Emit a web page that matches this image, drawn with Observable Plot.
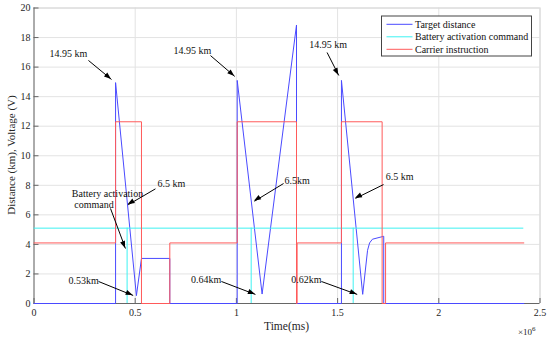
<!DOCTYPE html>
<html><head><meta charset="utf-8">
<script src="https://cdn.jsdelivr.net/npm/d3@7"></script>
<script src="https://cdn.jsdelivr.net/npm/@observablehq/plot@0.6"></script>
<style>
body{margin:0;background:#fff}
svg, svg text { font-family: "Liberation Serif", "Times New Roman", serif !important; }
</style>
</head><body><div id="chart"></div>
<script>
// Time in units of 10^6 ms
const distanceT = [0, 0.403, 0.403, 0.506, 0.531, 0.671, 0.671, 1.004, 1.004, 1.127, 1.297, 1.297, 1.519, 1.519, 1.624, 1.648, 1.658, 1.672, 1.728, 1.728, 2.42];
const distanceV = [0, 0, 14.95, 0.53, 3.05, 3.05, 0, 0, 15.1, 0.64, 18.85, 0, 0, 15.1, 0.62, 3.6, 4.1, 4.35, 4.55, 0, 0];

const carrierT = [0, 0.403, 0.403, 0.531, 0.531, 0.671, 0.671, 1.004, 1.004, 1.297, 1.297, 1.30, 1.30, 1.519, 1.519, 1.720, 1.720, 1.737, 1.737, 2.42];
const carrierV = [4.1, 4.1, 12.3, 12.3, 0, 0, 4.1, 4.1, 12.3, 12.3, 0, 0, 4.1, 4.1, 12.3, 12.3, 0, 0, 4.1, 4.1];

const batteryLevel = 5.1;
const batteryEnd = 2.42;
const batteryPulses = [0.46, 1.073, 1.577];

const xTicks = [0, 0.5, 1, 1.5, 2, 2.5];
const yTicks = [0, 2, 4, 6, 8, 10, 12, 14, 16, 18, 20];

const seriesNames = ["Target distance", "Battery activation command", "Carrier instruction"];
const seriesColors = ["#4a4aff", "#3df2f2", "#ff5a5a"];

const labelText = ["14.95 km", "14.95 km", "14.95 km", "6.5 km", "Battery activation", "command", "0.53km", "6.5km", "0.64km", "0.62km", "6.5 km"];
const labelX = [0.170, 0.783, 1.453, 0.679, 0.363, 0.296, 0.245, 1.300, 0.851, 1.346, 1.806];
const labelY = [16.92, 17.12, 17.51, 8.10, 7.45, 6.70, 1.56, 8.32, 1.62, 1.62, 8.60];

const arrowX1 = [0.269, 0.872, 1.448, 0.600, 0.378, 0.319, 1.233, 0.926, 1.420, 1.727];
const arrowY1 = [16.45, 16.78, 16.99, 7.76, 6.43, 1.49, 8.12, 1.49, 1.49, 8.05];
const arrowX2 = [0.383, 0.992, 1.506, 0.465, 0.452, 0.490, 1.089, 1.094, 1.597, 1.588];
const arrowY2 = [15.16, 15.37, 15.43, 6.68, 3.72, 0.54, 6.92, 0.61, 0.61, 7.11];

const distance = distanceT.map((t, i) => ({t, v: distanceV[i]}));
const carrier = carrierT.map((t, i) => ({t, v: carrierV[i]}));
const labels = labelText.map((text, i) => ({text, x: labelX[i], y: labelY[i]}));
const arrows = arrowX1.map((x1, i) => ({x1, y1: arrowY1[i], x2: arrowX2[i], y2: arrowY2[i]}));

const chart = Plot.plot({
  width: 550,
  height: 339,
  marginLeft: 33.5,
  marginRight: 10.5,
  marginTop: 7.5,
  marginBottom: 36,
  style: {fontFamily: '"Liberation Serif", "Times New Roman", serif', fontSize: "10px", background: "#fff", color: "#262626"},
  x: {domain: [0, 2.5]},
  y: {domain: [0, 20]},
  marks: [
    Plot.gridX(xTicks, {stroke: "#e3e3e3", strokeOpacity: 1}),
    Plot.gridY(yTicks, {stroke: "#e3e3e3", strokeOpacity: 1}),
    Plot.ruleY([20], {stroke: "#d6d6d6"}),
    Plot.ruleX([2.5], {stroke: "#d6d6d6"}),
    Plot.ruleX([0], {stroke: "#666"}),
    Plot.ruleY([0], {stroke: "#666"}),
    Plot.axisX(xTicks, {tickSize: -5, tickPadding: 10, stroke: "#666", fill: "#262626", label: null, tickFormat: d => String(d), fontSize: 10}),
    Plot.axisY(yTicks, {tickSize: -5, tickPadding: 8.5, stroke: "#666", fill: "#262626", label: null, fontSize: 10}),
    Plot.line(distance, {x: "t", y: "v", stroke: seriesColors[0], strokeWidth: 1}),
    Plot.ruleY([batteryLevel], {x1: 0, x2: batteryEnd, stroke: seriesColors[1], strokeWidth: 1}),
    Plot.ruleX(batteryPulses, {y1: 0, y2: batteryLevel, stroke: seriesColors[1], strokeWidth: 1}),
    Plot.line(carrier, {x: "t", y: "v", stroke: seriesColors[2], strokeWidth: 1}),
    Plot.link(arrows, {x1: "x1", y1: "y1", x2: "x2", y2: "y2", stroke: "#000", strokeWidth: 1}),
    Plot.text(labels, {x: "x", y: "y", text: "text", fontSize: 10, fill: "#111"})
  ]
});

const sx = chart.scale("x"), sy = chart.scale("y");
const svg = d3.select(chart);
const heads = svg.append("g");
arrows.forEach(a => {
  const x1 = sx.apply(a.x1), y1 = sy.apply(a.y1), x2 = sx.apply(a.x2), y2 = sy.apply(a.y2);
  const dx = x2 - x1, dy = y2 - y1, L = Math.hypot(dx, dy), ux = dx / L, uy = dy / L;
  const hl = 7, hw = 2.6;
  const bx = x2 - ux * hl, by = y2 - uy * hl;
  heads.append("path")
    .attr("d", `M${x2},${y2}L${bx - uy * hw},${by + ux * hw}L${bx + uy * hw},${by - ux * hw}Z`)
    .attr("fill", "#000");
});

// axis titles
svg.append("text").attr("x", 286.5).attr("y", 330).attr("text-anchor", "middle")
  .attr("font-size", 11.5).attr("fill", "#262626").text("Time(ms)");
svg.append("text").attr("transform", "translate(15,155) rotate(-90)").attr("text-anchor", "middle")
  .attr("font-size", 11).attr("fill", "#262626").text("Distance (km), Voltage (V)");
const mult = svg.append("text").attr("x", 518).attr("y", 334.5).attr("text-anchor", "start").attr("font-size", 9).attr("fill", "#262626");
mult.append("tspan").text("×10");
mult.append("tspan").attr("dy", -4).attr("font-size", 7).text("6");

// legend
const lg = svg.append("g").attr("transform", "translate(381.5,16)");
lg.append("rect").attr("width", 150).attr("height", 40).attr("fill", "#fff").attr("stroke", "#444").attr("stroke-width", 1);
seriesNames.forEach((name, i) => {
  const yy = 8.3 + i * 12.5;
  lg.append("line").attr("x1", 5).attr("x2", 31).attr("y1", yy).attr("y2", yy).attr("stroke", seriesColors[i]);
  lg.append("text").attr("x", 33.5).attr("y", yy).attr("dy", "0.35em").attr("text-anchor", "start").attr("font-size", 10).attr("fill", "#111").text(name);
});

document.getElementById("chart").appendChild(chart);
</script>
</body></html>
